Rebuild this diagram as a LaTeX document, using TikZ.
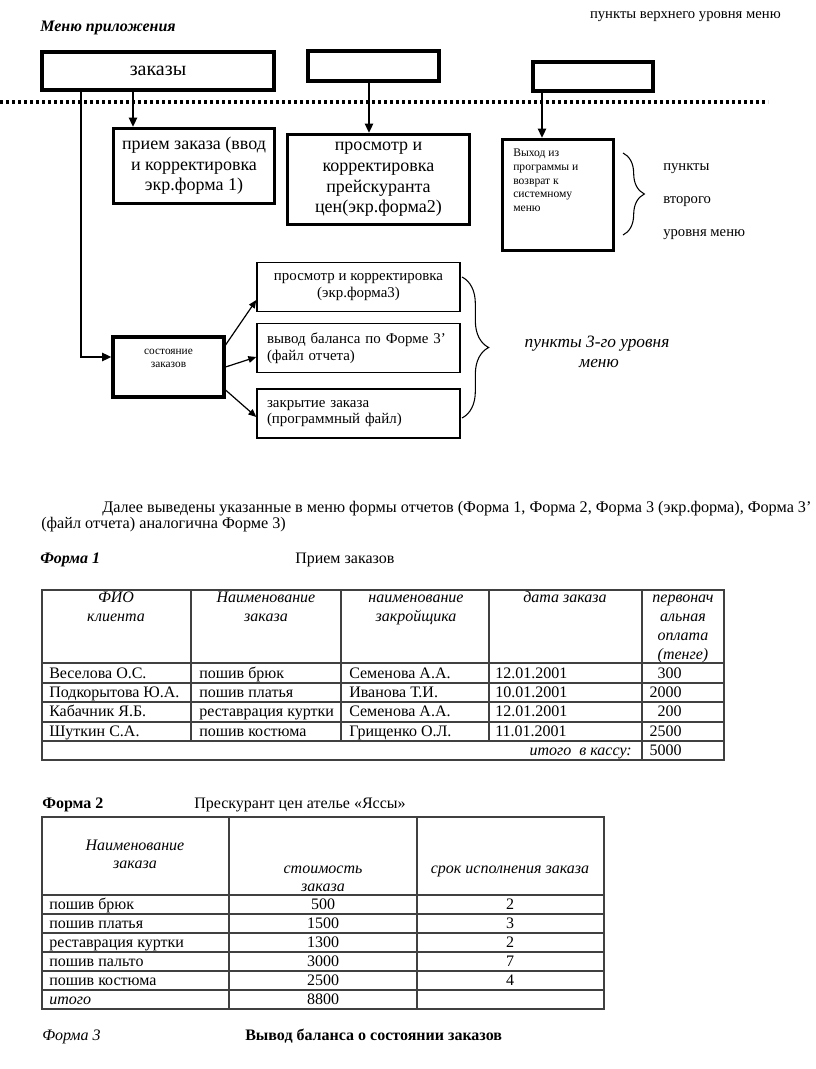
\documentclass[tikz,border=0pt]{standalone}
\usepackage{fontspec}
\setmainfont{Liberation Serif}
\usetikzlibrary{arrows.meta,decorations.pathreplacing}
\newcommand\FMain{\fontsize{12}{14}\selectfont}
\newcommand\FPar{\fontsize{12.15}{14}\selectfont}
\newcommand\FBig{\fontsize{15}{17}\selectfont}
\newcommand\FSec{\fontsize{13.5}{15.5}\selectfont}
\newcommand\FThird{\fontsize{11.2}{12.4}\selectfont}
\newcommand\FTiny{\fontsize{8.7}{10.2}\selectfont}
\newcommand\FSost{\fontsize{8.5}{9.75}\selectfont}
\newcommand\FSmall{\fontsize{11}{13}\selectfont}
\newcommand\FMid{\fontsize{13}{15}\selectfont}
\begin{document}
\begin{tikzpicture}[x=0.75pt,y=-0.75pt,
  txt/.style={inner sep=0pt, font=\FMain},
  topbox/.style={draw, line width=3pt, inner sep=0pt},
  secbox/.style={draw, line width=2.3pt, inner sep=0pt, align=center, font=\FSec},
  thirdbox/.style={draw, line width=1pt, inner sep=0pt, font=\FThird},
  conn/.style={line width=1.9pt, -{Triangle[length=7pt,width=6pt]}},
  thinarr/.style={line width=0.9pt, -{Triangle[length=6pt,width=5pt]}},
  brc/.style={decorate, line width=0.8pt},
  dotline/.style={line width=2.3pt, dash pattern=on 2.25pt off 2.25pt},
  tline/.style={line width=0.9pt, black!75},
]
\useasboundingbox (0,0) rectangle (816,1069);

% ---------- header ----------
\node[txt, font=\FMain\bfseries\itshape, anchor=base west] (title) at (40,32) {Меню приложения};
\node[txt, font=\FSmall, anchor=base east] (toplbl) at (781,19) {пункты верхнего уровня меню};

% top level
\node[topbox, minimum width=232*0.75pt, minimum height=38*0.75pt, font=\FBig] (zak) at (158,71) {заказы};
\node[topbox, minimum width=131*0.75pt, minimum height=30*0.75pt] (top2) at (373.5,66) {};
\node[topbox, minimum width=120*0.75pt, minimum height=29*0.75pt] (top3) at (593,76.5) {};

\draw[dotline] (0,102) -- (768,102);

% second level
\node[secbox, minimum width=161*0.75pt, minimum height=75*0.75pt] (pr1) at (194,166) {прием заказа (ввод\\и корректировка\\экр.форма 1)};
\node[secbox, minimum width=182*0.75pt, minimum height=90*0.75pt] (pr2) at (378.5,179.5) {просмотр и\\корректировка\\прейскуранта\\цен(экр.форма2)};
\node[secbox, minimum width=111*0.75pt, minimum height=111*0.75pt] (vyh) at (558,195) {};
\node[txt, font=\FTiny, align=left, anchor=north west] (vyhtxt) at (513,149) {Выход из\\программы и\\возврат к\\системному\\меню};

\draw[brc, decoration={brace, amplitude=16pt}] (623,153) -- (623,235);
\node[txt, font=\FSmall, anchor=base west] (p2a) at (663,171) {пункты};
\node[txt, font=\FSmall, anchor=base west] (p2b) at (663,204) {второго};
\node[txt, font=\FSmall, anchor=base west] (p2c) at (663,237) {уровня меню};

% third level
\node[secbox, minimum width=111*0.75pt, minimum height=60*0.75pt] (sost) at (168.5,367) {};
\node[txt, font=\FSost, align=center] (sosttxt) at (168.5,358.5) {состояние\\заказов};

\node[thirdbox, minimum width=203*0.75pt, minimum height=49*0.75pt, align=center] (t1) at (358.5,287) {просмотр и корректировка\\(экр.форма3)};
\node[thirdbox, minimum width=203*0.75pt, minimum height=49*0.75pt, text width=183*0.75pt, inner xsep=10*0.75pt, align=left] (t2) at (358.5,348) {вывод баланса по Форме 3’\\(файл отчета)};
\node[thirdbox, minimum width=203*0.75pt, minimum height=49*0.75pt, text width=183*0.75pt, inner xsep=10*0.75pt, align=left] (t3) at (358.5,413.5) {закрытие заказа\\(программный файл)};

\draw[brc, decoration={brace, amplitude=20pt}] (462,277) -- (462,418);
\node[txt, font=\FMid\itshape, anchor=base] (p3a) at (597,347.5) {пункты 3-го уровня};
\node[txt, font=\FMid\itshape, anchor=base] (p3b) at (599,367.5) {меню};

% connectors
\coordinate (x81) at (81,357);
\coordinate (x133) at (133,0);
\coordinate (x369) at (369,0);
\coordinate (x542) at (542,0);
\draw[conn, line width=2.2pt] (zak.south -| x81) -- (x81) -- (x81 -| sost.west);
\draw[conn] (zak.south -| x133) -- (pr1.north -| x133);
\draw[conn] (top2.south -| x369) -- (pr2.north -| x369);
\draw[conn] (top3.south -| x542) -- (vyh.north -| x542);

\coordinate (y345) at (0,345);
\coordinate (y300) at (0,300);
\coordinate (y367) at (0,367);
\coordinate (y357) at (0,357);
\coordinate (y390) at (0,390);
\coordinate (y417) at (0,417);
\draw[thinarr] (sost.east |- y345) -- (t1.west |- y300);
\draw[thinarr] (sost.east |- y367) -- (t2.west |- y357);
\draw[thinarr] (sost.east |- y390) -- (t3.west |- y417);

% ---------- paragraph ----------
\node[txt, font=\FPar, anchor=base west] (par1) at (102,512.5) {Далее выведены указанные в меню формы отчетов (Форма 1, Форма 2, Форма 3 (экр.форма), Форма 3’};
\node[txt, font=\FPar, anchor=base west] (par2) at (41,528.5) {(файл отчета) аналогична Форме 3)};

% ---------- Form 1 ----------
\node[txt, font=\FMain\bfseries\itshape, anchor=base west] (f1) at (40,563.5) {Форма 1};
\node[txt, anchor=base west] (f1t) at (295,563.5) {Прием заказов};

\draw[tline] (42,590) rectangle (724,760);
\foreach \yy in {663,683,702,722,741} \draw[tline] (42,\yy) -- (724,\yy);
\foreach \xx in {191,341,489} \draw[tline] (\xx,590) -- (\xx,741);
\draw[tline] (642,590) -- (642,760);

\begin{scope}[every node/.style={txt, font=\FMain\itshape, anchor=base}]
\node (h1a) at (116,602.5) {ФИО};
\node (h1b) at (116,621.5) {клиента};
\node (h2a) at (266,602.5) {Наименование};
\node (h2b) at (266,621.5) {заказа};
\node (h3a) at (416,602.5) {наименование};
\node (h3b) at (416,621.5) {закройщика};
\node (h4a) at (565,602.5) {дата заказа};
\node (h5a) at (683,602.5) {первонач};
\node (h5b) at (683,621.5) {альная};
\node (h5c) at (683,640.5) {оплата};
\node (h5d) at (683,659.5) {(тенге)};
\end{scope}

\foreach \a/\b/\c/\d/\e/\yy [count=\i] in {
  Веселова О.С./пошив брюк/Семенова А.А./12.01.2001/300/678,
  Подкорытова Ю.А./пошив платья/Иванова Т.И./10.01.2001/2000/697,
  Кабачник Я.Б./реставрация куртки/Семенова А.А./12.01.2001/200/716.5,
  Шуткин С.А./пошив костюма/Грищенко О.Л./11.01.2001/2500/736} {
  \node[txt, anchor=base west] (ra\i) at (49,\yy) {\a};
  \node[txt, anchor=base west] (rb\i) at (199,\yy) {\b};
  \node[txt, anchor=base west] (rc\i) at (349,\yy) {\c};
  \node[txt, anchor=base west] (rd\i) at (495,\yy) {\d};
  \node[txt, anchor=base east] (re\i) at (682,\yy) {\e};
}
\node[txt, font=\FMain\itshape, anchor=base east] (itog1) at (632,755) {итого\ \ в кассу:};
\node[txt, anchor=base east] (itog1v) at (682,755) {5000};

% ---------- Form 2 ----------
\node[txt, font=\FMain\bfseries, anchor=base west] (f2) at (42,808.5) {Форма 2};
\node[txt, anchor=base west] (f2t) at (194,808.5) {Прескурант цен ателье «Яссы»};

\draw[tline] (42,817) rectangle (604,1009);
\foreach \yy in {895,914,933,952,971,990} \draw[tline] (42,\yy) -- (604,\yy);
\foreach \xx in {229,417} \draw[tline] (\xx,817) -- (\xx,1009);

\begin{scope}[every node/.style={txt, font=\FMain\itshape, anchor=base}]
\node (g1a) at (135,850.5) {Наименование};
\node (g1b) at (135,868.5) {заказа};
\node (g2a) at (323,873.5) {стоимость};
\node (g2b) at (323,891.5) {заказа};
\node (g3a) at (510,873.5) {срок исполнения заказа};
\end{scope}

\foreach \a/\b/\c/\yy [count=\i] in {
  пошив брюк/500/2/909,
  пошив платья/1500/3/928,
  реставрация куртки/1300/2/947,
  пошив пальто/3000/7/966,
  пошив костюма/2500/4/985} {
  \node[txt, anchor=base west] (sa\i) at (49,\yy) {\a};
  \node[txt, anchor=base] (sb\i) at (323,\yy) {\b};
  \node[txt, anchor=base] (sc\i) at (510,\yy) {\c};
}
\node[txt, font=\FMain\itshape, anchor=base west] (itog2) at (49,1004) {итого};
\node[txt, anchor=base] (itog2v) at (323,1004) {8800};

% ---------- Form 3 ----------
\node[txt, font=\FMain\itshape, anchor=base west] (f3) at (42,1040.5) {Форма 3};
\node[txt, font=\FMain\bfseries, anchor=base west] (f3t) at (245,1040.5) {Вывод баланса о состоянии заказов};
\end{tikzpicture}
\end{document}
